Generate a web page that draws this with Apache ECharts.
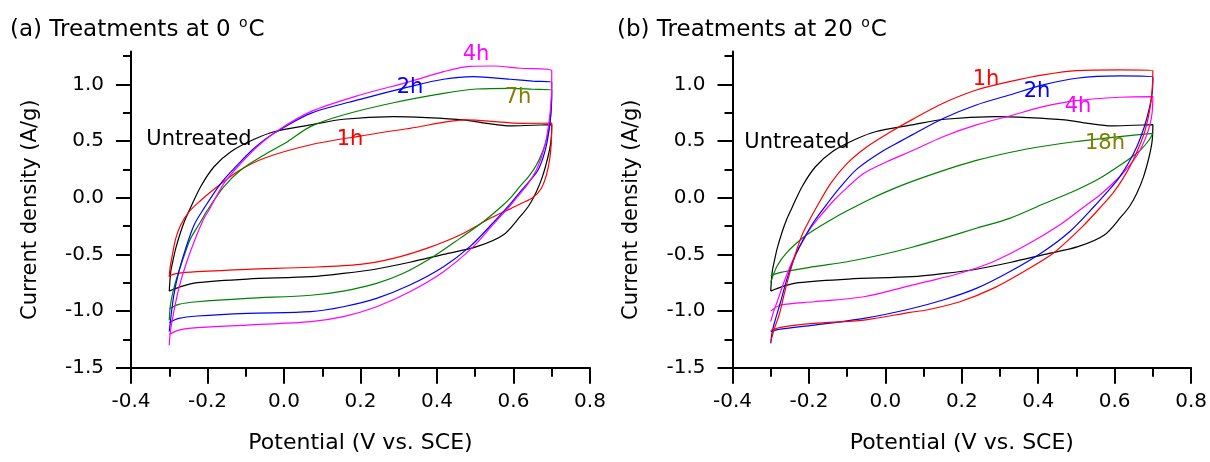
<!DOCTYPE html>
<html>
<head>
<meta charset="utf-8">
<script src="https://cdn.jsdelivr.net/npm/echarts@6/dist/echarts.min.js"></script>
<style>
  html, body { margin: 0; padding: 0; background: #fff; }
  #main { width: 1210px; height: 462px; }
</style>
</head>
<body>
<div id="main"></div>
<script>
// axis ticks
var yMajor = [-1.5, -1.0, -0.5, 0.0, 0.5, 1.0];
var yMinor = [-1.25, -0.75, -0.25, 0.25, 0.75, 1.25];

// untreated sample (same curve in both panels)
var potUntreated = [-0.300, -0.296, -0.290, -0.283, -0.270, -0.257, -0.244, -0.218, -0.183, -0.139, -0.078, -0.026, 0.070, 0.155, 0.286, 0.373, 0.469, 0.530, 0.591, 0.650, 0.700,
  0.698, 0.690, 0.675, 0.658, 0.640, 0.617, 0.573, 0.504, 0.417, 0.329, 0.242, 0.155, 0.070, -0.096, -0.227, -0.270, -0.300];
var curUntreated = [-0.823, -0.652, -0.550, -0.446, -0.299, -0.181, -0.085, 0.098, 0.274, 0.407, 0.516, 0.583, 0.643, 0.693, 0.716, 0.707, 0.687, 0.657, 0.634, 0.640, 0.645,
  0.500, 0.360, 0.180, 0.040, -0.070, -0.167, -0.328, -0.431, -0.499, -0.569, -0.628, -0.667, -0.696, -0.717, -0.749, -0.784, -0.823];

// (a) treatments at 0 C
var potA1h = [-0.300, -0.298, -0.292, -0.283, -0.270, -0.250, -0.220, -0.183, -0.122, -0.052, 0.070, 0.199, 0.329, 0.478, 0.560, 0.617, 0.700,
  0.699, 0.695, 0.686, 0.672, 0.650, 0.620, 0.590, 0.539, 0.460, 0.373, 0.286, 0.199, 0.070, -0.096, -0.227, -0.279, -0.300];
var curA1h = [-0.700, -0.620, -0.505, -0.358, -0.240, -0.130, -0.030, 0.075, 0.230, 0.349, 0.468, 0.545, 0.613, 0.687, 0.670, 0.657, 0.660,
  0.500, 0.350, 0.200, 0.080, 0.000, -0.050, -0.100, -0.181, -0.328, -0.446, -0.534, -0.587, -0.613, -0.631, -0.652, -0.667, -0.687];

var potA2h = [-0.300, -0.295, -0.288, -0.275, -0.257, -0.235, -0.212, -0.165, -0.122, -0.078, -0.026, 0.070, 0.199, 0.329, 0.417, 0.495, 0.591, 0.650, 0.700,
  0.699, 0.694, 0.683, 0.665, 0.640, 0.617, 0.595, 0.547, 0.486, 0.417, 0.329, 0.242, 0.155, 0.070, -0.096, -0.227, -0.275, -0.300];
var curA2h = [-1.180, -1.034, -0.858, -0.652, -0.446, -0.240, -0.108, 0.128, 0.289, 0.437, 0.569, 0.745, 0.869, 0.981, 1.046, 1.069, 1.046, 1.030, 1.020,
  0.820, 0.620, 0.420, 0.250, 0.140, 0.050, -0.040, -0.220, -0.431, -0.608, -0.770, -0.887, -0.961, -1.005, -1.019, -1.043, -1.064, -1.100];

var potA4h = [-0.300, -0.297, -0.288, -0.275, -0.257, -0.235, -0.209, -0.196, -0.157, -0.113, -0.070, -0.017, 0.070, 0.199, 0.329, 0.417, 0.486, 0.547, 0.617, 0.700,
  0.699, 0.694, 0.682, 0.662, 0.637, 0.613, 0.595, 0.547, 0.495, 0.417, 0.329, 0.242, 0.155, 0.070, -0.096, -0.227, -0.275, -0.300];
var curA4h = [-1.300, -1.180, -1.005, -0.799, -0.593, -0.387, -0.181, -0.108, 0.128, 0.304, 0.451, 0.592, 0.760, 0.907, 1.025, 1.113, 1.160, 1.163, 1.143, 1.122,
  0.900, 0.700, 0.460, 0.260, 0.120, 0.020, -0.055, -0.235, -0.431, -0.652, -0.829, -0.961, -1.049, -1.093, -1.123, -1.146, -1.167, -1.205];

var potA7h = [-0.300, -0.297, -0.288, -0.275, -0.260, -0.244, -0.218, -0.200, -0.157, -0.113, -0.052, 0.009, 0.070, 0.155, 0.286, 0.417, 0.504, 0.591, 0.650, 0.700,
  0.699, 0.695, 0.687, 0.675, 0.660, 0.640, 0.617, 0.595, 0.573, 0.521, 0.460, 0.390, 0.312, 0.242, 0.155, 0.070, -0.096, -0.227, -0.275, -0.300];
var curA7h = [-1.080, -0.946, -0.799, -0.652, -0.500, -0.358, -0.211, -0.108, 0.098, 0.245, 0.378, 0.495, 0.630, 0.731, 0.839, 0.922, 0.960, 0.966, 0.958, 0.950,
  0.800, 0.660, 0.520, 0.400, 0.290, 0.190, 0.100, 0.010, -0.064, -0.211, -0.358, -0.520, -0.666, -0.755, -0.823, -0.860, -0.887, -0.917, -0.940, -0.981];

// (b) treatments at 20 C
var potB1h = [-0.300, -0.290, -0.278, -0.261, -0.239, -0.218, -0.196, -0.178, -0.143, -0.100, -0.048, 0.014, 0.070, 0.151, 0.238, 0.325, 0.413, 0.500, 0.613, 0.700,
  0.698, 0.692, 0.680, 0.665, 0.645, 0.620, 0.595, 0.568, 0.517, 0.439, 0.369, 0.282, 0.195, 0.108, 0.064, -0.056, -0.187, -0.274, -0.300];
var curB1h = [-1.270, -1.150, -1.034, -0.799, -0.534, -0.328, -0.181, -0.070, 0.128, 0.304, 0.451, 0.583, 0.690, 0.834, 0.951, 1.025, 1.084, 1.122, 1.128, 1.122,
  0.950, 0.780, 0.600, 0.460, 0.310, 0.160, 0.040, -0.064, -0.250, -0.490, -0.637, -0.799, -0.917, -0.990, -1.011, -1.079, -1.108, -1.143, -1.170];

var potB2h = [-0.300, -0.296, -0.287, -0.274, -0.257, -0.235, -0.213, -0.187, -0.154, -0.117, -0.074, -0.013, 0.040, 0.070, 0.151, 0.238, 0.325, 0.413, 0.500, 0.613, 0.700,
  0.698, 0.690, 0.677, 0.658, 0.635, 0.610, 0.580, 0.548, 0.482, 0.413, 0.325, 0.238, 0.151, 0.064, -0.056, -0.187, -0.274, -0.300];
var curB2h = [-1.284, -1.180, -1.064, -0.917, -0.711, -0.505, -0.358, -0.211, -0.060, 0.098, 0.255, 0.400, 0.500, 0.555, 0.700, 0.819, 0.907, 0.996, 1.055, 1.075, 1.065,
  0.920, 0.780, 0.620, 0.450, 0.300, 0.170, 0.050, -0.070, -0.299, -0.475, -0.652, -0.799, -0.902, -0.981, -1.064, -1.123, -1.158, -1.180];

var potB4h = [-0.300, -0.292, -0.283, -0.265, -0.244, -0.222, -0.196, -0.161, -0.133, -0.100, -0.056, 0.005, 0.070, 0.151, 0.238, 0.325, 0.413, 0.500, 0.613, 0.700,
  0.698, 0.692, 0.680, 0.663, 0.640, 0.613, 0.560, 0.526, 0.456, 0.369, 0.282, 0.195, 0.108, 0.070, -0.056, -0.187, -0.274, -0.300];
var curB4h = [-1.093, -1.000, -0.917, -0.740, -0.564, -0.417, -0.269, -0.123, -0.017, 0.090, 0.216, 0.320, 0.415, 0.539, 0.643, 0.722, 0.804, 0.857, 0.887, 0.892,
  0.750, 0.640, 0.520, 0.400, 0.290, 0.186, 0.020, -0.064, -0.240, -0.417, -0.564, -0.666, -0.740, -0.770, -0.873, -0.917, -0.946, -1.000];

var potB18h = [-0.300, -0.283, -0.257, -0.222, -0.187, -0.143, -0.100, -0.039, 0.014, 0.070, 0.151, 0.238, 0.325, 0.413, 0.500, 0.613, 0.700,
  0.690, 0.670, 0.645, 0.613, 0.560, 0.500, 0.413, 0.325, 0.238, 0.151, 0.070, -0.013, -0.100, -0.187, -0.274, -0.300];
var curB18h = [-0.746, -0.600, -0.480, -0.370, -0.285, -0.195, -0.115, -0.010, 0.070, 0.145, 0.240, 0.330, 0.400, 0.455, 0.497, 0.540, 0.569,
  0.510, 0.430, 0.360, 0.285, 0.170, 0.069, -0.055, -0.181, -0.269, -0.358, -0.436, -0.505, -0.564, -0.608, -0.658, -0.687];

var FONT = 'DejaVu Sans';

function pairs(p, c) {
  return p.map(function (v, k) { return [v, c[k]]; });
}

function curve(name, p, c, color, panel) {
  return {
    name: name,
    type: 'line',
    xAxisIndex: panel,
    yAxisIndex: panel * 2,
    data: pairs(p, c),
    showSymbol: false,
    smooth: 0.3,
    lineStyle: { color: color, width: 1.2 },
    itemStyle: { color: color },
    z: 3
  };
}

function xAxisFor(panel) {
  return {
    type: 'value',
    gridIndex: panel,
    position: 'bottom',
    min: -0.4, max: 0.8, interval: 0.2,
    name: 'Potential (V vs. SCE)',
    nameLocation: 'middle',
    nameGap: 64,
    nameTextStyle: { fontFamily: FONT, fontSize: 22, color: '#000' },
    axisLine: { onZero: false, lineStyle: { color: '#000', width: 2 } },
    axisTick: { length: 16, lineStyle: { color: '#000', width: 2 } },
    minorTick: { show: true, splitNumber: 2, length: 9, lineStyle: { color: '#000', width: 2 } },
    axisLabel: { fontFamily: FONT, fontSize: 20, color: '#000', margin: 24,
      formatter: function (v) { return v.toFixed(1); } },
    splitLine: { show: false }
  };
}

function yAxesFor(panel) {
  return [{
    type: 'value',
    gridIndex: panel,
    position: 'left',
    min: -1.5, max: 1.29,
    name: 'Current density (A/g)',
    nameLocation: 'middle',
    nameGap: 90,
    nameTextStyle: { fontFamily: FONT, fontSize: 21, color: '#000' },
    axisLine: { onZero: false, lineStyle: { color: '#000', width: 2 } },
    axisTick: { customValues: yMajor, length: 15, lineStyle: { color: '#000', width: 2 } },
    axisLabel: { customValues: yMajor, fontFamily: FONT, fontSize: 20, color: '#000', margin: 27,
      formatter: function (v) { return v.toFixed(1); } },
    splitLine: { show: false }
  }, {
    type: 'value',
    gridIndex: panel,
    position: 'left',
    offset: 0,
    min: -1.5, max: 1.29,
    axisLine: { show: false, onZero: false },
    axisTick: { customValues: yMinor, length: 8, lineStyle: { color: '#000', width: 2 } },
    axisLabel: { show: false },
    splitLine: { show: false }
  }];
}

function note(text, x, y, color) {
  return {
    type: 'text', x: x, y: y, z: 10,
    style: { text: text, fill: color, fontFamily: FONT, fontSize: 21, align: 'center', verticalAlign: 'middle' }
  };
}

function heading(text, x) {
  return {
    type: 'text', x: x, y: 30, z: 10,
    style: {
      text: text, fill: '#000', fontFamily: FONT, fontSize: 23, align: 'left', verticalAlign: 'middle',
      rich: {
        t: { fontFamily: FONT, fontSize: 23, fill: '#000' },
        sup: { fontFamily: FONT, fontSize: 14, fill: '#000', padding: [0, 1, 14, 1] }
      }
    }
  };
}

var chart = echarts.init(document.getElementById('main'), null, { renderer: 'canvas' });

chart.setOption({
  animation: false,
  backgroundColor: '#fff',
  grid: [
    { left: 131, top: 51.6, width: 459, height: 316.2 },
    { left: 732.5, top: 51.6, width: 459, height: 316.2 }
  ],
  xAxis: [xAxisFor(0), xAxisFor(1)],
  yAxis: yAxesFor(0).concat(yAxesFor(1)),
  series: [
    curve('Untreated', potUntreated, curUntreated, '#000000', 0),
    curve('1h', potA1h, curA1h, '#ff0000', 0),
    curve('7h', potA7h, curA7h, '#008000', 0),
    curve('2h', potA2h, curA2h, '#0000ff', 0),
    curve('4h', potA4h, curA4h, '#ff00ff', 0),
    curve('Untreated', potUntreated, curUntreated, '#000000', 1),
    curve('18h', potB18h, curB18h, '#008000', 1),
    curve('4h', potB4h, curB4h, '#ff00ff', 1),
    curve('2h', potB2h, curB2h, '#0000ff', 1),
    curve('1h', potB1h, curB1h, '#ff0000', 1)
  ],
  graphic: [
    heading('{t|(a) Treatments at 0 }{sup|o}{t|C}', 10),
    heading('{t|(b) Treatments at 20 }{sup|o}{t|C}', 617),
    note('Untreated', 199, 140, '#000000'),
    note('1h', 350, 140, '#ff0000'),
    note('2h', 410, 88, '#0000ff'),
    note('4h', 476, 55, '#ff00ff'),
    note('7h', 518, 98, '#808000'),
    note('Untreated', 797, 143, '#000000'),
    note('1h', 986, 80, '#ff0000'),
    note('2h', 1037, 92, '#0000ff'),
    note('4h', 1078, 107, '#ff00ff'),
    note('18h', 1105, 144, '#808000')
  ]
});
</script>
</body>
</html>
